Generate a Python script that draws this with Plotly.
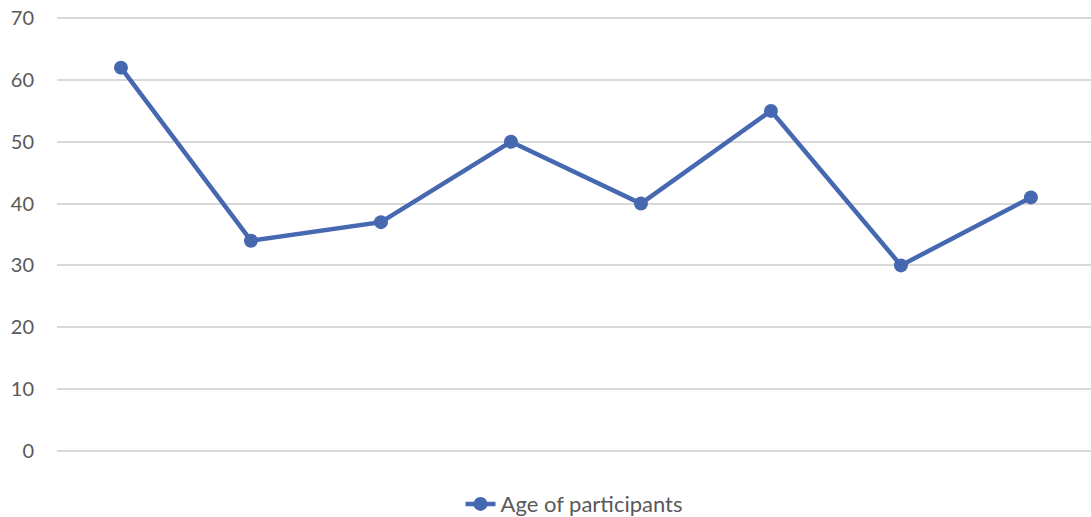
import plotly.graph_objects as go

categories = ["1", "2", "3", "4", "5", "6", "7", "8"]
ages = [62, 34, 37, 50, 40, 55, 30, 41]
y_ticks = [0, 10, 20, 30, 40, 50, 60, 70]

fig = go.Figure()
fig.add_trace(go.Scatter(
    x=list(range(len(categories))), y=ages, mode="lines+markers",
    name="Age of participants",
    line=dict(color="#4568B0", width=4.5),
    marker=dict(size=14, color="#4568B0"),
))

fig.update_layout(
    width=1091, height=517,
    margin=dict(l=57, r=0, t=12, b=60),
    plot_bgcolor="white", paper_bgcolor="white",
    font=dict(family="Lato, Open Sans, sans-serif", color="#595959", size=20),
    showlegend=True,
    legend=dict(orientation="h", x=0.5, xanchor="center",
                yref="container", y=0.025, yanchor="middle",
                font=dict(size=22, color="#595959")),
)
fig.update_xaxes(range=[-0.492, 7.462], showticklabels=False, showgrid=False,
                 zeroline=False, showline=False, ticks="", automargin=False)
fig.update_yaxes(range=[-1, 71], tickvals=y_ticks, showgrid=True, gridcolor="#d9d9d9",
                 gridwidth=1.5, zeroline=False, showline=False, ticks="",
                 ticklabelstandoff=22, automargin=False,
                 tickfont=dict(size=20, color="#595959"))

fig.write_html("out.html", config={"displayModeBar": False},
               post_script="document.body.style.margin='0';")
